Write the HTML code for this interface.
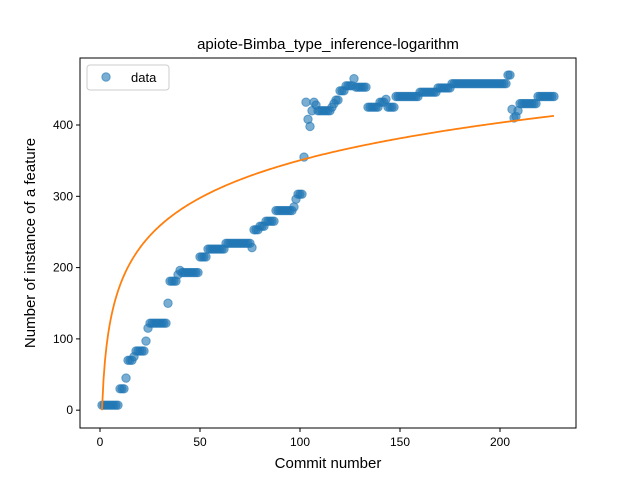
<!DOCTYPE html>
<html><head><meta charset="utf-8"><style>
body{margin:0;background:#fff;font-family:"Liberation Sans","DejaVu Sans",sans-serif}
svg text{font-family:"Liberation Sans","DejaVu Sans",sans-serif}
</style></head><body>
<svg id="chart" width="640" height="480" xmlns="http://www.w3.org/2000/svg">
<rect width="640" height="480" fill="#fff"/>
<text x="328" y="49" font-size="15" text-anchor="middle">apiote-Bimba_type_inference-logarithm</text>
<g id="plot"></g>
<rect x="80" y="58" width="496" height="370" fill="none" stroke="#000" stroke-width="1"/>
<g id="ticks"></g>
<text x="328" y="468" font-size="15" text-anchor="middle">Commit number</text>
<text transform="translate(35,243) rotate(-90)" font-size="15" text-anchor="middle">Number of instance of a feature</text>
<g>
<rect x="87" y="65" width="82" height="25" rx="3" fill="#fff" fill-opacity="0.8" stroke="#ccc"/>
<circle cx="106" cy="77" r="4.2" fill="#1f77b4" fill-opacity="0.6" stroke="#1f77b4" stroke-opacity="0.6"/>
<text x="131" y="82" font-size="13">data</text>
</g>
</svg>
<script>
const values = [7,7,7,7,7,7,7,7,7,30,30,30,45,70,70,70,75,83,83,83,83,83,97,115,
122,122,122,122,122,122,122,122,122,150,181,181,181,181,190,196,
193,193,193,193,193,193,193,193,193,215,215,215,215,
226,226,226,226,226,226,226,226,226,
234,234,234,234,234,234,234,234,234,234,234,234,234,228,
253,253,253,258,258,258,265,265,265,265,265,
280,280,280,280,280,280,280,280,280,285,296,303,303,303,
355,432,408,398,420,432,428,420,420,420,420,420,420,420,425,430,435,435,
448,448,448,455,455,455,455,465,453,453,453,453,453,453,
425,425,425,425,425,425,432,432,432,436,425,425,425,425,
440,440,440,440,440,440,440,440,440,440,440,440,
446,446,446,446,446,446,446,446,446,
452,452,452,452,452,452,452,
458,458,458,458,458,458,458,458,458,458,458,458,458,458,458,458,458,458,458,458,458,458,458,458,458,458,458,458,
470,470,422,410,412,420,
430,430,430,430,430,430,430,430,430,
440,440,440,440,440,440,440,440,440];
const xTicks = [0,50,100,150,200];
const yTicks = [0,100,200,300,400];
const fitA = 76.1, fitB = 0;
const X0=-10,X1=238,Y0=-25,Y1=494;
const L=80,R=576,T=58,B=428;
const sx=v=>L+(v-X0)/(X1-X0)*(R-L);
const sy=v=>B-(v-Y0)/(Y1-Y0)*(B-T);
const NS="http://www.w3.org/2000/svg";
const plot=document.getElementById('plot'),tk=document.getElementById('ticks');
values.forEach((v,i)=>{
 const c=document.createElementNS(NS,'circle');
 c.setAttribute('cx',sx(i+1));c.setAttribute('cy',sy(v));c.setAttribute('r',4.2);
 c.setAttribute('fill','#1f77b4');c.setAttribute('fill-opacity','0.6');
 c.setAttribute('stroke','#1f77b4');c.setAttribute('stroke-opacity','0.6');
 
 
 plot.appendChild(c);
});
let d='';
const n=values.length;
for(let k=0;k<=300;k++){const x=1+(n-1)*k/300;d+=(k?'L':'M')+sx(x).toFixed(2)+','+sy(fitA*Math.log(x)+fitB).toFixed(2);}
const p=document.createElementNS(NS,'path');
p.setAttribute('d',d);p.setAttribute('fill','none');p.setAttribute('stroke','#ff7f0e');p.setAttribute('stroke-width','1.8');


plot.appendChild(p);
xTicks.forEach(t=>{
 const l=document.createElementNS(NS,'line');l.setAttribute('x1',sx(t));l.setAttribute('x2',sx(t));l.setAttribute('y1',B);l.setAttribute('y2',B+4);l.setAttribute('stroke','#000');
 
 
 tk.appendChild(l);
 const tx=document.createElementNS(NS,'text');tx.setAttribute('x',sx(t));tx.setAttribute('y',B+18);tx.setAttribute('font-size','12');tx.setAttribute('text-anchor','middle');tx.textContent=t;
 
 
 tk.appendChild(tx);
});
yTicks.forEach(t=>{
 const l=document.createElementNS(NS,'line');l.setAttribute('x1',L-4);l.setAttribute('x2',L);l.setAttribute('y1',sy(t));l.setAttribute('y2',sy(t));l.setAttribute('stroke','#000');
 
 
 tk.appendChild(l);
 const tx=document.createElementNS(NS,'text');tx.setAttribute('x',L-7);tx.setAttribute('y',sy(t)+4);tx.setAttribute('font-size','12');tx.setAttribute('text-anchor','end');tx.textContent=t;
 
 
 tk.appendChild(tx);
});
</script>
</body></html>
